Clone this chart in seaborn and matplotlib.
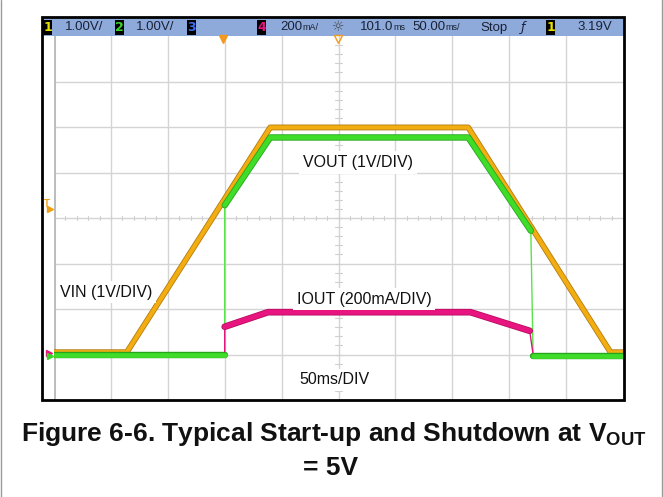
import pandas as pd
import seaborn as sns
import matplotlib.pyplot as plt
from matplotlib.patches import Rectangle
import matplotlib.patheffects as pe

# scope capture: 50 ms/DIV, VIN/VOUT at 1 V/DIV, IOUT at 200 mA/DIV
vin_t = [0, 64, 190, 364, 489, 500]
vin_v = [0.05, 0.05, 4.99, 4.99, 0.05, 0.05]

vout_t = [0, 150, 150, 190, 364, 419, 421, 500]
vout_v = [0.0, 0.0, 3.28, 4.77, 4.77, 2.72, -0.04, -0.04]

iout_t = [0, 150, 150, 188, 366, 418, 421, 500]
iout_ma = [0, 0, 122, 186, 186, 104, 0, 0]

# status bar readouts: (value, unit)
header = [("1.00V/", ""), ("1.00V/", ""), ("200", "mA/"), ("101.0", "ms"),
          ("50.00", "ms/"), ("Stop", ""), ("3.19V", "")]

W, H = 663, 497
GND = 1.0  # ground marker sits one division above the bottom

sns.set_style("white")
plt.rcParams["font.family"] = ["Liberation Sans", "DejaVu Sans"]
plt.rcParams["mathtext.fontset"] = "custom"
plt.rcParams["mathtext.rm"] = "Liberation Sans"
plt.rcParams["mathtext.bf"] = "Liberation Sans:bold"

fig = plt.figure(figsize=(W / 100, H / 100), dpi=100)

def px(x0, y0, x1, y1):
    return [x0 / W, 1 - y1 / H, (x1 - x0) / W, (y1 - y0) / H]

ax = fig.add_axes(px(54, 36, 623, 400))
ax.set_xlim(0, 500)
ax.set_ylim(0, 8)
ax.set_facecolor("none")
for s in ax.spines.values():
    s.set_visible(False)
ax.set_xticks([])
ax.set_yticks([])

# graticule
for i in range(1, 10):
    ax.axvline(i * 50, color="#d4d4d4", lw=1, zorder=0)
for j in range(1, 8):
    ax.axhline(j, color="#d4d4d4", lw=1, zorder=0)
ax.axvline(0, color="#bdbdbd", lw=2.2, zorder=0)
for k in range(1, 50):
    ax.plot([k * 10, k * 10], [3.95, 4.05], color="#d0d0d0", lw=0.8, zorder=0)
for k in range(1, 40):
    ax.plot([247, 253], [k * 0.2, k * 0.2], color="#d0d0d0", lw=0.8, zorder=0)

vin = pd.DataFrame({"t": vin_t, "div": [v + GND for v in vin_v]})
vout = pd.DataFrame({"t": vout_t, "div": [v + GND for v in vout_v]})
iout = pd.DataFrame({"t": iout_t, "div": [i / 200 + GND for i in iout_ma]})

# thin fast edges first, then the thick traces
for df, c in [(vout, "#59e34a"), (iout, "#e0157e")]:
    sns.lineplot(data=df, x="t", y="div", ax=ax, color=c, lw=1.0,
                 estimator=None, sort=False, zorder=2)

def thick(df, idx, color, edge, lw):
    part = df.iloc[idx]
    sns.lineplot(data=part, x="t", y="div", ax=ax, color=color, lw=lw,
                 estimator=None, sort=False, zorder=3,
                 path_effects=[pe.Stroke(linewidth=lw + 1.2, foreground=edge), pe.Normal()])

thick(vin, slice(0, 6), "#f2ae10", "#b57a10", 3.0)
thick(vout, slice(0, 2), "#3fdc2a", "#27a51c", 3.4)
thick(vout, slice(2, 6), "#3fdc2a", "#27a51c", 3.4)
thick(vout, slice(6, 8), "#3fdc2a", "#27a51c", 3.4)
thick(iout, slice(2, 6), "#e8147f", "#b80f62", 3.6)
ax.set_xlabel("")
ax.set_ylabel("")

lab = dict(fontsize=11.5, color="#111111", va="center", ha="left", zorder=5,
           bbox=dict(facecolor="white", edgecolor="none", pad=2.5))
ax.text(218.8, 5.22, "VOUT (1V/DIV)", **lab)
ax.text(5.3, 2.37, "VIN (1V/DIV)", **lab)
ax.text(213.5, 2.21, "IOUT (200mA/DIV)", **lab)
ax.text(216, 0.44, "50ms/DIV", **lab)

# overlay in pixel coordinates for the scope frame, status bar and caption
ov = fig.add_axes([0, 0, 1, 1], zorder=10)
ov.set_xlim(0, W)
ov.set_ylim(H, 0)
ov.axis("off")
ov.set_facecolor("none")
ov.plot([0.5, 0.5], [0, H], color="#9a9a9a", lw=1)
ov.plot([W - 1.5, W - 1.5], [0, H], color="#9a9a9a", lw=1)
ov.add_patch(Rectangle((42, 18), 582, 18, fc="#8eaadb", ec="none"))
ov.add_patch(Rectangle((42, 17), 582, 383, fill=False, ec="black", lw=2))

for x, c, n in [(43, "#e8e000", "1"), (115, "#3ad52a", "2"), (187, "#3b6cf0", "3"),
                (257, "#e8147f", "4"), (546, "#e8e000", "1")]:
    ov.add_patch(Rectangle((x, 20), 9, 15, fc="black", ec="none"))
    ov.text(x + 4.5, 27.5, n, fontsize=9, family="DejaVu Sans", color=c, va="center",
            ha="center", fontweight="bold")

hfont = dict(fontsize=9.5, color="#1a2236", va="center", ha="left")
for x, (s, u) in zip([65, 136, 280, 360, 412, 480, 577], header):
    t = ov.text(x, 27.5, s, **hfont)
    if u:
        fig.canvas.draw()
        bb = t.get_window_extent()
        ov.text(bb.x1 + 0.5, 27.5, u, fontsize=6.5, color="#1a2236", va="center", ha="left")
ov.text(332, 27, "☼", fontsize=10, family="DejaVu Sans", color="#4a4a4a", va="center", ha="left")
ov.text(521, 27, "ƒ", fontsize=9, family="DejaVu Sans", color="#1a2236", va="center",
        ha="left", style="italic")

# markers on the graticule edge
ov.plot([223], [38.5], marker="v", ms=6, color="#f39a1e", ls="none")
ov.plot([338], [38.5], marker="v", ms=6, mfc="none", mec="#f39a1e", ls="none", mew=1)
ov.text(44, 204, "T", fontsize=7, color="#f0a010", va="center", ha="left", fontweight="bold")
ov.plot([50], [209], marker=">", ms=5, color="#f0a010", ls="none")
ov.plot([49], [353], marker=">", ms=5, color="#e8147f", ls="none")
ov.plot([50], [356], marker=">", ms=5, color="#3ad52a", ls="none")

cap = dict(fontsize=19, fontweight="bold", color="#111111", va="baseline", ha="center")
ov.text(334, 441, r"Figure 6-6. Typical Start-up and Shutdown at V$_{\mathbf{OUT}}$", **cap)
ov.text(331, 475, "= 5V", **cap)

fig.savefig("out.png", dpi=100)
